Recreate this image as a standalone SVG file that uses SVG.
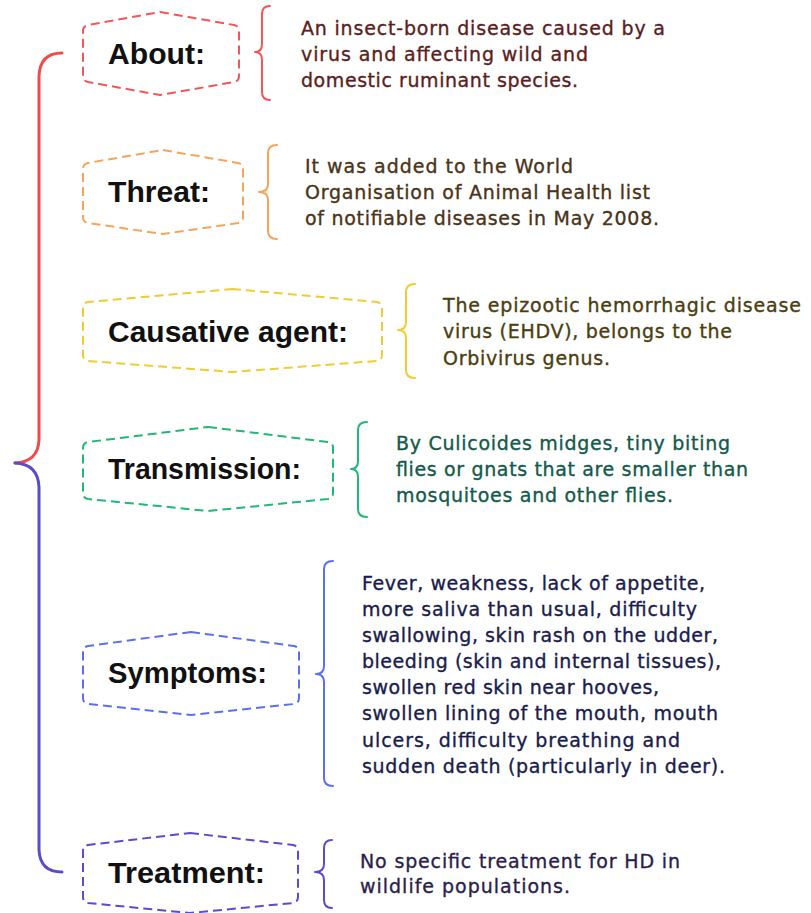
<svg xmlns="http://www.w3.org/2000/svg" width="811" height="913" viewBox="0 0 811 913">
<style>
.hex{fill:none;stroke-width:2;stroke-dasharray:9 5;stroke-linejoin:round}
.br{fill:none;stroke-width:2;stroke-linecap:round;stroke-linejoin:round}
.lbl{font-family:"Liberation Sans",Arial,sans-serif;font-weight:bold;font-size:29px;fill:#111}
.txt{font-family:"DejaVu Sans","Noto Sans",sans-serif;font-size:19px;stroke-width:0.35}
</style>
<rect width="811" height="913" fill="#fff"/>
<g id="connectors">
<path d="M62,53 Q40,53 39,76 L39,440 Q38,462 15,463" fill="none" stroke="#f24a4a" stroke-width="3" stroke-linecap="round"/>
<path d="M15,463 Q38,464 39,487 L39,850 Q40,872 62,872" fill="none" stroke="#5a4cc8" stroke-width="3" stroke-linecap="round"/>
</g>
<g id="about">
<path class="hex" stroke="#f25757" d="M160,12 L234,25 Q239,26 239,31 L239,76 Q239,81 234,82 L160,95 L88,82 Q83,81 83,76 L83,31 Q83,26 88,25 Z"/>
<text class="lbl" x="108" y="64" textLength="97" lengthAdjust="spacingAndGlyphs">About:</text>
<path class="br" stroke="#f25757" d="M270,6 Q262,6 262,14 L262,44 Q262,52 255,52 Q262,52 262,60 L262,92 Q262,100 270,100"/>
<text class="txt" fill="#5a1e22" stroke="#5a1e22"><tspan x="301" y="35" textLength="364">An insect-born disease caused by a</tspan><tspan x="301" y="61" textLength="287">virus and affecting wild and</tspan><tspan x="301" y="87" textLength="277">domestic ruminant species.</tspan></text>
</g>
<g id="threat">
<path class="hex" stroke="#f5a55a" d="M163,150 L238,163 Q243,164 243,169 L243,217 Q243,222 238,223 L163,234 L88,223 Q83,222 83,217 L83,169 Q83,164 88,163 Z"/>
<text class="lbl" x="108" y="202" textLength="102" lengthAdjust="spacingAndGlyphs">Threat:</text>
<path class="br" stroke="#f5a55a" d="M277,145 Q268,145 268,153 L268,184 Q268,192 259,192 Q268,192 268,200 L268,231 Q268,239 277,239"/>
<text class="txt" fill="#4a3318" stroke="#4a3318"><tspan x="305" y="173" textLength="268">It was added to the World</tspan><tspan x="305" y="199" textLength="345">Organisation of Animal Health list</tspan><tspan x="305" y="225" textLength="354">of notifiable diseases in May 2008.</tspan></text>
</g>
<g id="causative-agent">
<path class="hex" stroke="#f0cc30" d="M232,289 L377,302 Q382,303 382,308 L382,355 Q382,360 377,361 L232,372 L88,361 Q83,360 83,355 L83,308 Q83,303 88,302 Z"/>
<text class="lbl" x="108" y="342" textLength="240" lengthAdjust="spacingAndGlyphs">Causative agent:</text>
<path class="br" stroke="#f0cc30" d="M415,284 Q406,284 406,292 L406,322 Q406,330 398,330 Q406,330 406,338 L406,370 Q406,378 415,378"/>
<text class="txt" fill="#4a3e10" stroke="#4a3e10"><tspan x="443" y="312" textLength="358">The epizootic hemorrhagic disease</tspan><tspan x="443" y="338" textLength="289">virus (EHDV), belongs to the</tspan><tspan x="443" y="365" textLength="167">Orbivirus genus.</tspan></text>
</g>
<g id="transmission">
<path class="hex" stroke="#1fb877" d="M208,427 L328,442 Q333,443 333,448 L333,493 Q333,498 328,499 L208,511 L88,499 Q83,498 83,493 L83,448 Q83,443 88,442 Z"/>
<text class="lbl" x="108" y="479" textLength="193" lengthAdjust="spacingAndGlyphs">Transmission:</text>
<path class="br" stroke="#1fb877" d="M367,422 Q358,422 358,430 L358,461 Q358,469 351,469 Q358,469 358,477 L358,509 Q358,517 367,517"/>
<text class="txt" fill="#135a4a" stroke="#135a4a"><tspan x="396" y="450" textLength="334">By Culicoides midges, tiny biting</tspan><tspan x="396" y="476" textLength="352">flies or gnats that are smaller than</tspan><tspan x="396" y="502" textLength="277">mosquitoes and other flies.</tspan></text>
</g>
<g id="symptoms">
<path class="hex" stroke="#5a70f0" d="M191,632 L294,646 Q299,647 299,652 L299,698 Q299,703 294,704 L191,715 L88,704 Q83,703 83,698 L83,652 Q83,647 88,646 Z"/>
<text class="lbl" x="108" y="683" textLength="159" lengthAdjust="spacingAndGlyphs">Symptoms:</text>
<path class="br" stroke="#5a70f0" d="M333,561 Q324,561 324,569 L324,666 Q324,674 316,674 Q324,674 324,682 L324,778 Q324,786 333,786"/>
<text class="txt" fill="#1a1c4c" stroke="#1a1c4c"><tspan x="362" y="590" textLength="343">Fever, weakness, lack of appetite,</tspan><tspan x="362" y="616" textLength="335">more saliva than usual, difficulty</tspan><tspan x="362" y="642" textLength="356">swallowing, skin rash on the udder,</tspan><tspan x="362" y="668" textLength="359">bleeding (skin and internal tissues),</tspan><tspan x="362" y="694" textLength="297">swollen red skin near hooves,</tspan><tspan x="362" y="720" textLength="356">swollen lining of the mouth, mouth</tspan><tspan x="362" y="747" textLength="318">ulcers, difficulty breathing and</tspan><tspan x="362" y="773" textLength="363">sudden death (particularly in deer).</tspan></text>
</g>
<g id="treatment">
<path class="hex" stroke="#5b4cc8" d="M190,833 L293,845 Q298,846 298,851 L298,897 Q298,902 293,903 L190,913 L88,903 Q83,902 83,897 L83,851 Q83,846 88,845 Z"/>
<text class="lbl" x="108" y="883" textLength="157" lengthAdjust="spacingAndGlyphs">Treatment:</text>
<path class="br" stroke="#5b4cc8" d="M332,840 Q324,840 324,848 L324,864 Q324,872 315,872 Q324,872 324,880 L324,900 Q324,908 332,908"/>
<text class="txt" fill="#2a1e4c" stroke="#2a1e4c"><tspan x="360" y="868" textLength="320">No specific treatment for HD in</tspan><tspan x="360" y="893" textLength="210">wildlife populations.</tspan></text>
</g>
</svg>
